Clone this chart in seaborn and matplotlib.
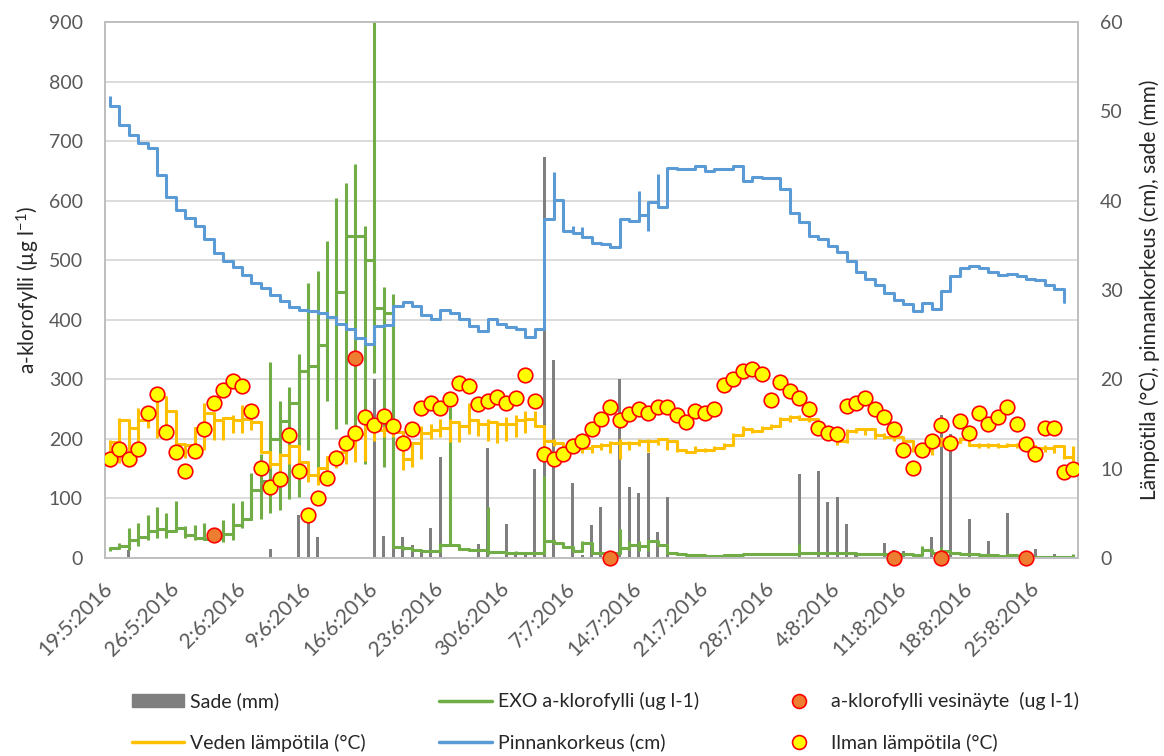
import matplotlib
matplotlib.use('Agg')
import matplotlib.pyplot as plt
import seaborn as sns
import pandas as pd
from matplotlib.patches import Patch
from matplotlib.lines import Line2D

# one entry per day, 19.5.2016 - 29.8.2016
dates = pd.date_range('2016-05-19', '2016-08-29', freq='D')

# Sade (mm), right axis
rain = [0, 0, 0.9, 0, 0, 0, 0, 0, 0, 0,
        0, 0, 0, 0, 0, 0, 0, 1.0, 0, 0,
        4.8, 4.2, 2.3, 0, 0, 0, 0, 0, 20.0, 2.5,
        2.4, 2.3, 1.5, 0.9, 3.4, 11.3, 0, 0, 0, 1.6,
        12.3, 0, 3.8, 0.5, 0.3, 10.0, 44.9, 22.2, 0, 8.4,
        0.3, 3.7, 5.7, 0, 20.0, 7.9, 7.3, 11.8, 2.9, 6.8,
        0, 0, 0, 0, 0, 0, 0, 0, 0, 0,
        0, 0, 0, 9.4, 0, 9.7, 6.3, 6.8, 3.8, 0.3,
        0, 0, 1.7, 0.9, 0.8, 0, 0, 2.3, 16.0, 13.9,
        0, 4.4, 0, 1.9, 0, 5.0, 0, 0, 1.0, 0,
        0.4, 0, 0.2]

# Ilman lämpötila (°C), right axis
air_temp = [11.1, 12.2, 11.1, 12.2, 16.2, 18.4, 14.1, 11.9, 9.7, 12.0,
            14.4, 17.3, 18.8, 19.8, 19.2, 16.5, 10.1, 7.9, 8.8, 13.8,
            9.7, 4.8, 6.7, 9.0, 11.2, 12.9, 14.0, 15.8, 14.9, 15.9,
            14.8, 12.9, 14.4, 16.8, 17.3, 16.8, 17.8, 19.6, 19.2, 17.2,
            17.6, 18.0, 17.3, 17.9, 20.5, 17.6, 11.6, 11.1, 11.6, 12.5,
            13.1, 14.4, 15.6, 16.9, 15.5, 16.1, 16.7, 16.2, 16.9, 16.9,
            16.0, 15.2, 16.4, 16.2, 16.7, 19.4, 20.0, 20.9, 21.2, 20.6,
            17.7, 19.7, 18.7, 17.9, 16.7, 14.6, 14.0, 13.9, 17.0, 17.3,
            17.9, 16.7, 15.8, 14.4, 12.1, 10.1, 12.1, 13.1, 14.9, 12.9,
            15.3, 14.0, 16.2, 15.0, 15.8, 16.9, 15.0, 12.8, 11.6, 14.6,
            14.6, 9.6, 10.0]

# Pinnankorkeus (cm), level at end of each day (no value for the last day)
level = [50.6, 48.5, 47.4, 46.5, 45.9, 42.9, 40.4, 39.0, 38.1, 37.2,
         35.7, 34.1, 33.3, 32.6, 31.7, 30.8, 30.2, 29.4, 28.8, 28.1,
         27.8, 27.7, 27.4, 27.0, 26.2, 25.6, 24.6, 23.9, 26.0, 26.1,
         28.2, 28.7, 28.2, 27.2, 26.7, 27.8, 27.4, 26.8, 26.0, 25.4,
         26.8, 26.2, 25.9, 25.6, 24.7, 25.6, 38.0, 40.1, 36.6, 36.4,
         35.9, 35.3, 35.1, 34.8, 37.9, 37.7, 38.4, 39.8, 39.3, 43.7,
         43.6, 43.5, 43.9, 43.3, 43.5, 43.6, 43.9, 42.2, 42.7, 42.5,
         42.5, 41.3, 38.6, 37.6, 36.1, 35.7, 34.9, 34.3, 33.2, 32.0,
         31.2, 30.6, 29.7, 28.9, 28.4, 27.6, 28.5, 27.9, 29.9, 31.6,
         32.5, 32.7, 32.5, 32.0, 31.7, 31.8, 31.6, 31.2, 31.1, 30.6,
         30.1, 28.7]
# short within-day excursions of the level
spike_days = [0, 47, 49, 50, 56, 57, 58]
spike_vals = [51.7, 43.2, 37.2, 37.0, 41.1, 36.6, 43.0]

# Veden lämpötila (°C): daily min, max and last reading
water_lo = [10.2, 10.6, 10.8, 11.7, 14.5, 13.4, 13.6, 12.6, 11.2, 11.7,
            12.1, 13.2, 13.2, 14.0, 14.0, 14.3, 11.9, 10.1, 8.5, 10.5,
            9.7, 8.5, 8.2, 9.3, 10.1, 10.5, 10.7, 10.9, 13.1, 13.5,
            13.5, 9.8, 10.2, 11.1, 13.3, 13.6, 13.0, 13.0, 13.9, 13.7,
            13.1, 12.9, 13.1, 13.5, 14.0, 14.8, 12.5, 12.5, 11.7, 12.1,
            11.7, 11.7, 12.1, 11.7, 11.1, 12.1, 12.5, 11.9, 12.7, 12.1,
            11.9, 11.7, 11.9, 11.9, 12.3, 12.5, 12.9, 13.8, 14.0, 14.2,
            14.4, 15.0, 15.2, 15.4, 15.2, 14.2, 13.6, 12.7, 12.9, 14.0,
            13.8, 13.3, 13.3, 13.1, 12.9, 11.9, 11.7, 11.5, 12.9, 12.7,
            12.9, 12.5, 12.3, 12.3, 12.3, 12.5, 12.3, 12.1, 12.1, 11.9,
            11.7, 11.1, 10.9]
water_hi = [13.2, 15.7, 15.1, 16.8, 16.4, 18.2, 16.8, 16.2, 12.8, 14.7,
            17.3, 15.4, 15.8, 16.0, 17.1, 15.6, 15.2, 11.9, 11.7, 12.7,
            11.1, 10.5, 10.1, 11.3, 12.1, 13.1, 14.2, 15.0, 15.0, 14.8,
            14.8, 14.1, 12.9, 14.8, 15.0, 15.6, 15.6, 15.2, 17.3, 15.6,
            15.6, 15.2, 15.8, 16.0, 16.4, 16.4, 14.8, 13.3, 12.9, 12.7,
            12.5, 12.7, 12.9, 13.1, 13.3, 13.1, 13.3, 13.3, 13.3, 13.1,
            13.1, 12.1, 12.5, 12.3, 12.5, 12.9, 14.0, 14.8, 14.4, 14.8,
            15.0, 15.8, 16.0, 16.0, 16.0, 15.2, 14.2, 13.5, 14.4, 14.6,
            14.6, 14.2, 14.0, 13.8, 13.5, 13.1, 12.5, 13.0, 13.5, 13.3,
            13.5, 12.9, 12.9, 12.9, 12.9, 12.9, 12.9, 12.7, 12.7, 12.7,
            12.7, 11.9, 12.5]
water_last = [13.0, 15.5, 14.5, 15.4, 16.2, 18.0, 16.4, 12.8, 12.6, 14.5,
              16.2, 15.4, 15.7, 15.4, 15.6, 15.2, 11.9, 10.5, 11.5, 12.5,
              10.7, 9.3, 10.1, 11.3, 11.9, 12.9, 13.9, 14.5, 14.3, 14.3,
              14.1, 11.1, 12.9, 14.0, 14.3, 14.6, 15.2, 14.8, 15.4, 15.0,
              15.2, 15.0, 15.0, 15.4, 15.6, 14.8, 13.1, 12.9, 12.5, 12.5,
              12.3, 12.5, 12.7, 12.9, 12.9, 12.9, 13.1, 13.1, 13.3, 13.1,
              12.1, 11.9, 12.1, 12.1, 12.3, 12.7, 13.8, 14.4, 14.2, 14.6,
              14.8, 15.6, 15.8, 15.6, 15.6, 14.6, 13.8, 13.1, 14.2, 14.4,
              14.4, 13.8, 13.6, 13.5, 13.1, 12.3, 12.1, 12.7, 13.3, 13.0,
              13.3, 12.7, 12.7, 12.7, 12.5, 12.7, 12.5, 12.5, 12.3, 12.3,
              12.5, 11.3, 12.3]

# EXO a-klorofylli (ug l-1), left axis: daily min, max and last reading
chl_lo = [11, 15, 14, 20, 30, 33, 34, 45, 33, 30,
          30, 30, 27, 30, 50, 64, 65, 75, 81, 99,
          102, 181, 150, 264, 217, 225, 211, 158, 310, 152,
          19, 14, 12, 10, 10, 10, 20, 13, 11, 11,
          5, 8, 7, 7, 7, 6, 6, 24, 16, 10,
          12, 7, 6, 6, 7, 14, 12, 12, 20, 8,
          5, 4, 4, 3, 3, 4, 4, 5, 5, 5,
          6, 6, 6, 6, 7, 6, 7, 6, 6, 6,
          6, 6, 5, 5, 5, 4, 5, 6, 8, 6,
          6, 5, 4, 4, 3, 4, 3, 1, 1, 1,
          1, 1, 1]
chl_hi = [19, 25, 50, 58, 72, 86, 75, 95, 53, 56,
          58, 40, 64, 93, 96, 143, 175, 329, 264, 287,
          343, 461, 482, 532, 605, 630, 661, 558, 960, 455,
          443, 19, 16, 14, 14, 25, 253, 20, 15, 15,
          85, 12, 11, 11, 10, 10, 138, 30, 26, 18,
          28, 26, 10, 10, 48, 28, 28, 31, 29, 22,
          9, 7, 6, 5, 5, 6, 6, 7, 8, 7,
          8, 8, 9, 23, 10, 10, 9, 10, 9, 8,
          9, 8, 8, 7, 7, 6, 20, 14, 18, 12,
          8, 7, 6, 6, 5, 6, 5, 4, 3, 3,
          3, 3, 6]
chl_last = [16, 20, 30, 35, 45, 48, 45, 50, 38, 33,
            32, 33, 40, 55, 65, 115, 130, 200, 230, 260,
            314, 322, 358, 405, 446, 540, 540, 500, 420, 411,
            19, 16, 14, 12, 12, 22, 22, 15, 13, 13,
            10, 10, 9, 9, 9, 8, 29, 26, 18, 12,
            26, 9, 8, 8, 16, 22, 20, 29, 22, 9,
            6, 5, 5, 4, 4, 5, 5, 6, 6, 6,
            7, 7, 7, 8, 8, 8, 8, 8, 8, 7,
            7, 7, 7, 6, 6, 5, 14, 8, 12, 8,
            7, 6, 5, 5, 4, 5, 4, 2, 2, 2,
            2, 2, 2]

# a-klorofylli vesinäyte (ug l-1), left axis
sample_days = [11, 26, 53, 83, 88, 97]
sample_chl = [39, 336, 0, 0, 0, 0]

tick_days = list(range(0, 99, 7))

sns.set_style('white')
plt.rcParams['font.family'] = ['Lato', 'DejaVu Sans']
plt.rcParams['mathtext.default'] = 'regular'

grey_txt = '#595959'
c_rain = '#7f7f7f'
c_chl = '#70ad47'
c_water = '#ffc000'
c_level = '#5b9bd5'
LW = 2.2


def daily_series(ax, x, lo, hi, last, color, z):
    # Excel puts every reading of a day on the same x: a vertical stroke per day
    # plus a step to the next day
    ax.vlines(x, lo, hi, color=color, lw=LW, zorder=z)
    sns.lineplot(x=x, y=last, ax=ax, color=color, lw=LW, drawstyle='steps-post',
                 estimator=None, zorder=z)


fig = plt.figure(figsize=(11.64, 7.56), dpi=100)
ax = fig.add_axes([105 / 1164, 1 - 558 / 756, 973 / 1164, 536 / 756])
ax2 = ax.twinx()

# rain uses the right scale, but sits under the chlorophyll line like in Excel
ax.bar(dates, rain, width=0.32, color=c_rain, edgecolor='none', linewidth=0,
       transform=ax2.transData, zorder=1)

# left axis: EXO chlorophyll
daily_series(ax, dates, chl_lo, chl_hi, chl_last, c_chl, 2)

# right axis: water temperature, water level, air temperature
daily_series(ax2, dates, water_lo, water_hi, water_last, c_water, 2)
sns.lineplot(x=dates[:len(level)], y=level, ax=ax2, color=c_level, lw=LW,
             drawstyle='steps-post', estimator=None, zorder=3)
ax2.vlines(dates[spike_days], [level[d] for d in spike_days], spike_vals,
           color=c_level, lw=LW, zorder=3)

# water samples use the left scale but are drawn with the other markers
sns.scatterplot(x=dates[sample_days], y=sample_chl, ax=ax2, transform=ax.transData,
                color='#ed7d31', edgecolor='#ff0000', linewidth=1.2, s=110,
                zorder=4, clip_on=False)
sns.scatterplot(x=dates, y=air_temp, ax=ax2, color='#ffff00', edgecolor='#ff0000',
                linewidth=1.2, s=110, zorder=5)

ax.set_xlim(dates[0] - pd.Timedelta(hours=12), dates[-1] + pd.Timedelta(hours=12))
ax.set_ylim(0, 900)
ax2.set_ylim(0, 60)
ax.set_yticks(range(0, 901, 100))
ax2.set_yticks(range(0, 61, 10))
ax.set_xticks(dates[tick_days])
ax.set_xticklabels([f'{d.day}:{d.month}:{d.year}' for d in dates[tick_days]])
plt.setp(ax.get_xticklabels(), rotation=45, ha='right', va='center',
         rotation_mode='anchor')

ax.yaxis.grid(True, color='#d9d9d9', lw=1.3)
ax.xaxis.grid(False)
ax2.grid(False)
ax.set_axisbelow(True)

for a in (ax, ax2):
    for s in a.spines.values():
        s.set_color('#bfbfbf')
        s.set_linewidth(1.3)
ax.tick_params(axis='y', length=0, labelsize=14, labelcolor=grey_txt, pad=16)
ax.tick_params(axis='x', length=0, labelsize=15, labelcolor=grey_txt, pad=20)
ax2.tick_params(axis='y', length=0, labelsize=14, labelcolor=grey_txt, pad=16)

ax.set_xlabel('')
ax.set_ylabel('a-klorofylli (µg l$^{-1}$)', fontsize=15, labelpad=5)
ax2.set_ylabel('Lämpötila (°C), pinnankorkeus (cm), sade (mm)', fontsize=15, labelpad=12)

handles = [
    Patch(color=c_rain),
    Line2D([], [], color=c_water, lw=2.5),
    Line2D([], [], color=c_chl, lw=2.5),
    Line2D([], [], color=c_level, lw=2.5),
    Line2D([], [], ls='none', marker='o', ms=10, mfc='#ed7d31', mec='#ff0000', mew=1.2),
    Line2D([], [], ls='none', marker='o', ms=10, mfc='#ffff00', mec='#ff0000', mew=1.2),
]
labels = ['Sade (mm)', 'Veden lämpötila (°C)', 'EXO a-klorofylli (ug l-1)',
          'Pinnankorkeus (cm)', 'a-klorofylli vesinäyte  (ug l-1)', 'Ilman lämpötila (°C)']
fig.legend(handles, labels, ncol=3, loc='center', bbox_to_anchor=(0.52, 1 - 722 / 756),
           frameon=False, fontsize=14, handlelength=2.7, handletextpad=0.3,
           columnspacing=3.8, labelspacing=1.2)

fig.savefig('out.png', dpi=100)
